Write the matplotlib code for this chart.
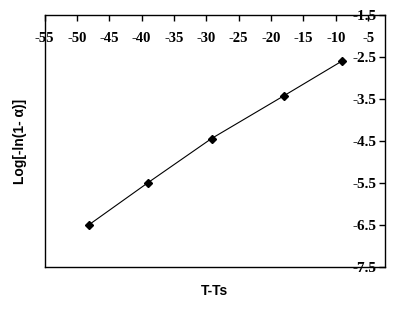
"""
Log[-ln(1-a)] against T-Ts, drawn in the old Excel look:
x axis along the top, y axis labels inside the right edge.
"""
import matplotlib
matplotlib.use("Agg")
import matplotlib.pyplot as plt

# ---------------------------------------------------------------------------
# Data
# ---------------------------------------------------------------------------
dT = [-48.2, -39.1, -29.2, -18.0, -9.1]
log_ln = [-6.50, -5.50, -4.44, -3.42, -2.60]

x_ticks = [-55, -50, -45, -40, -35, -30, -25, -20, -15, -10, -5]
y_ticks = [-1.5, -2.5, -3.5, -4.5, -5.5, -6.5, -7.5]

TICK_FONT = "Liberation Serif"
LABEL_FONT = "Liberation Sans"

fig = plt.figure(figsize=(4.06, 3.09), dpi=100)
ax = fig.add_axes([0.110, 0.136, 0.838, 0.815])

ax.plot(dT, log_ln, color="black", linewidth=0.8,
        marker="D", markersize=4, markerfacecolor="black",
        markeredgecolor="black")

ax.set_xlim(-55, -2.4)
ax.set_ylim(-7.5, -1.5)
ax.set_xticks(x_ticks)
ax.set_yticks(y_ticks)
ax.set_xticklabels([str(v) for v in x_ticks])
ax.set_yticklabels([f"{v:g}" for v in y_ticks])

# x ticks on the top spine, labels hanging inside the plot
ax.tick_params(axis="x", top=True, bottom=False, labeltop=True,
               labelbottom=False, direction="in", length=4, width=1,
               pad=-21.5)
# y ticks on the right spine, labels to the left of it
ax.tick_params(axis="y", right=True, left=False, labelright=True,
               labelleft=False, direction="in", length=4, width=1,
               pad=-6)

for lab in ax.get_xticklabels():
    lab.set_fontfamily(TICK_FONT)
    lab.set_fontweight("bold")
    lab.set_fontsize(10.5)
for lab in ax.get_yticklabels():
    lab.set_fontfamily(TICK_FONT)
    lab.set_fontweight("bold")
    lab.set_fontsize(11)
    lab.set_horizontalalignment("right")

for side in ["top", "bottom", "left", "right"]:
    ax.spines[side].set_linewidth(1)
    ax.spines[side].set_color("black")

ax.set_xlabel("T-Ts", fontfamily=LABEL_FONT, fontweight="bold",
              fontsize=10, labelpad=12)
ax.set_ylabel("Log[-ln(1- \u03b1)]", fontfamily=LABEL_FONT,
              fontweight="bold", fontsize=10, labelpad=13)

fig.savefig("out.png", dpi=100)
